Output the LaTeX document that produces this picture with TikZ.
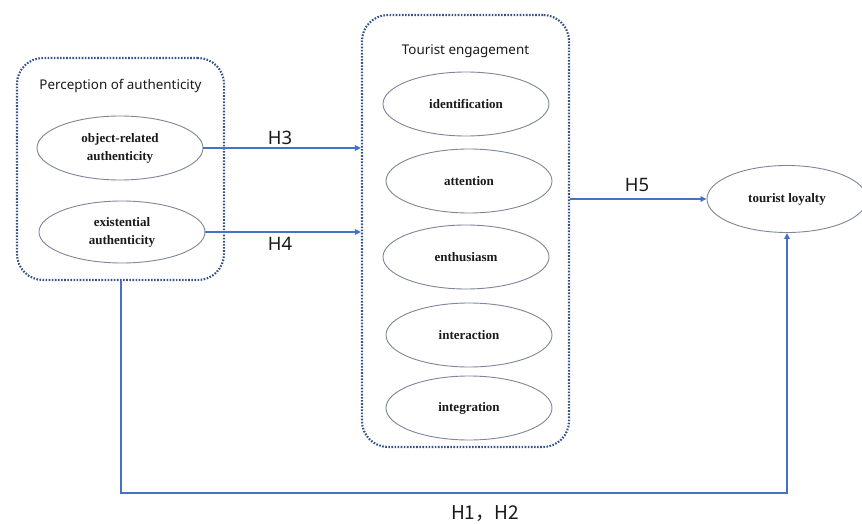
\documentclass[tikz,border=0pt]{standalone}
\usepackage{fontspec}
\setmainfont{Liberation Serif}
\setsansfont{Noto Sans}
\newfontfamily\cjk{Noto Sans CJK SC}
\usepackage{xcolor}
\usetikzlibrary{arrows.meta,shapes.geometric}
\definecolor{modink}{HTML}{1A1A1A}
\definecolor{moddot}{HTML}{34518A}
\definecolor{modedge}{HTML}{7D8799}
\definecolor{modblue}{HTML}{4472C4}

\begin{document}
\begin{tikzpicture}[
  x=1pt, y=-1pt,
  groupbox/.style={
    draw=moddot,
    line width=2.1pt,
    dash pattern=on 1.6pt off 1.5pt,
    rounded corners=26pt,
    inner sep=0pt
  },
  grouptitle/.style={
    font=\sffamily\fontsize{13.4}{15}\selectfont,
    text=modink,
    inner sep=1pt
  },
  construct/.style={
    ellipse,
    draw=modedge,
    line width=0.9pt,
    fill=white,
    text=modink,
    align=center,
    font=\bfseries\fontsize{13}{18}\selectfont,
    minimum width=166pt,
    minimum height=64pt,
    inner sep=0pt
  },
  hyplabel/.style={
    font=\sffamily\fontsize{18.5}{20}\selectfont,
    text=modink,
    inner sep=1pt
  },
  flow/.style={
    draw=modblue,
    line width=2pt,
    -{Triangle[length=6pt,width=5.5pt]}
  }
]
\useasboundingbox (0,0) rectangle (862,524);

% groups
\node[groupbox,minimum width=207pt,minimum height=222pt] (percbox) at (120.5,169) {};
\node[grouptitle] (perctitle) at (120.5,86) {Perception of authenticity};
\node[groupbox,minimum width=207pt,minimum height=432pt] (engbox) at (465.5,231) {};
\node[grouptitle] (engtitle) at (465.5,51) {Tourist engagement};

% perception constructs
\node[construct] (objauth) at (120,148) {object-related\\authenticity};
\node[construct,minimum height=62pt] (exiauth) at (122,232) {existential\\authenticity};

% engagement constructs
\node[construct] (ident) at (466,104) {identification};
\node[construct] (atten) at (469,181) {attention};
\node[construct] (enthu) at (466,257) {enthusiasm};
\node[construct] (inter) at (469,335) {interaction};
\node[construct] (integ) at (469,408) {integration};

% outcome
\node[construct,minimum width=160pt,minimum height=67pt] (loyal) at (787,199) {tourist loyalty};

% paths
\draw[flow] (objauth.east) -- (objauth.east -| engbox.west);
\node[hyplabel] (h3) at (280,138) {H3};
\draw[flow] (exiauth.east) -- (exiauth.east -| engbox.west);
\node[hyplabel] (h4) at (280,244) {H4};
\draw[flow] (loyal.west -| engbox.east) -- (loyal.west);
\node[hyplabel] (h5) at (637,185) {H5};

\coordinate (bottomrun) at (480,493);
\draw[flow] (percbox.south) |- (bottomrun) -| (loyal.south);
\node[hyplabel,font=\cjk\fontsize{19}{20}\selectfont] (h12) at (485,514) {H1，H2};

\end{tikzpicture}
\end{document}
